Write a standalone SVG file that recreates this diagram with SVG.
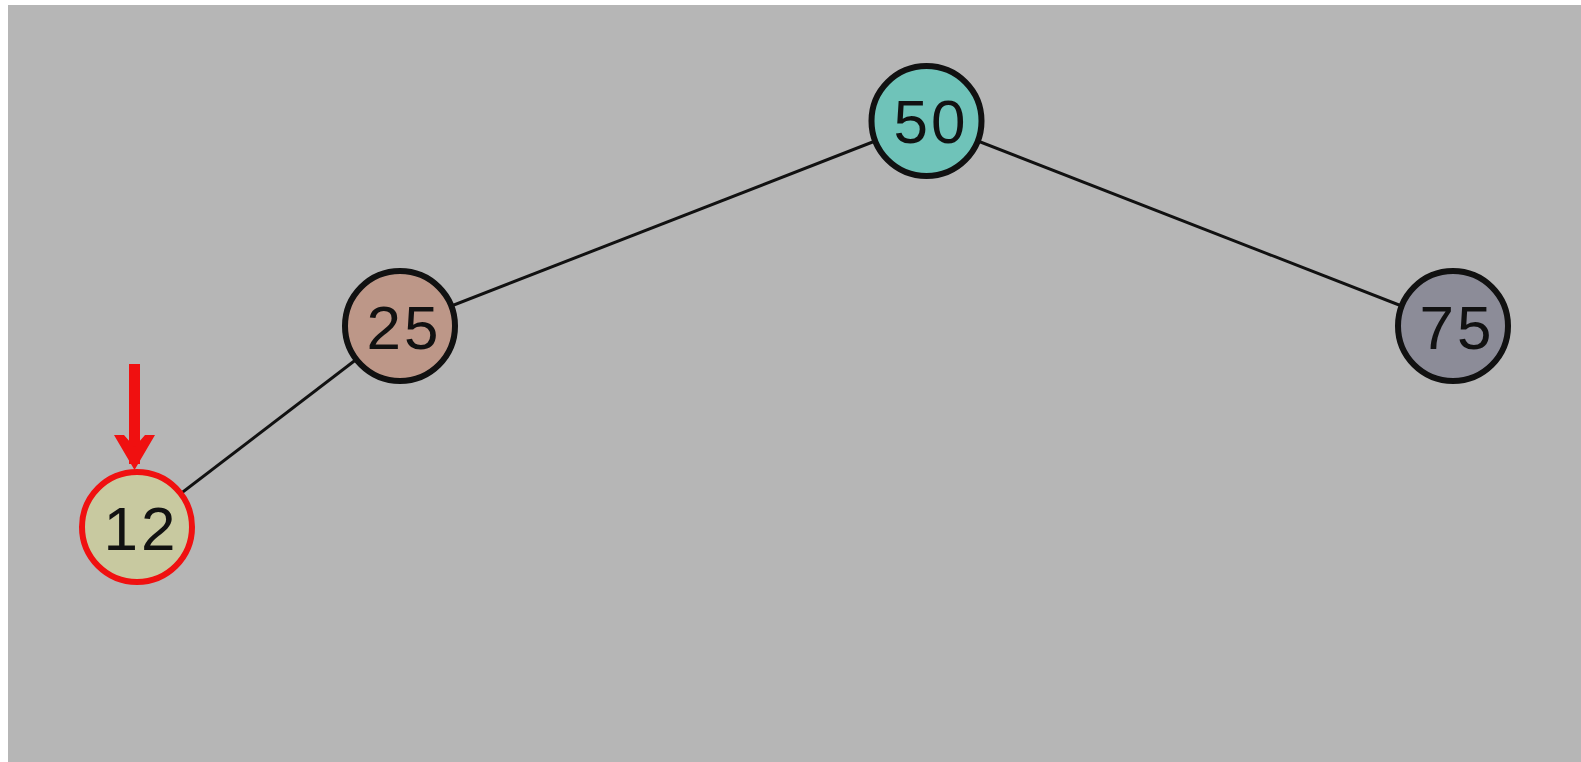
<svg xmlns="http://www.w3.org/2000/svg" width="1581" height="762" viewBox="0 0 1581 762">
<style>
.node circle{stroke:#111;stroke-width:6}
.node text{font-family:"Liberation Sans",Arial,sans-serif;font-size:62px;fill:#111;text-anchor:middle;letter-spacing:3px}
.edge{stroke:#111;stroke-width:3}
</style>
<rect x="0" y="0" width="1581" height="762" fill="#ffffff"/>
<rect x="8" y="5" width="1573" height="757" fill="#b6b6b6"/>
<g id="edges">
<line class="edge" x1="926.5" y1="121" x2="400" y2="326"/>
<line class="edge" x1="926.5" y1="121" x2="1453" y2="326"/>
<line class="edge" x1="400" y1="326" x2="137" y2="527"/>
</g>
<g id="n50" class="node">
<circle cx="926.5" cy="121" r="55" fill="#6fc3b9"/>
<text x="931" y="143">50</text>
</g>
<g id="n25" class="node">
<circle cx="400" cy="326" r="55" fill="#bd9788"/>
<text x="404" y="349">25</text>
</g>
<g id="n75" class="node">
<circle cx="1453" cy="326" r="55" fill="#8c8c98"/>
<text x="1457" y="349">75</text>
</g>
<g id="n12" class="node">
<circle cx="137" cy="527" r="55" fill="#c8c9a0" style="stroke:#f01010"/>
<text x="141" y="550">12</text>
</g>
<g id="pointer">
<rect x="129" y="364" width="11" height="100" fill="#f01010"/>
<polygon points="114,435 124,435 134.5,447 145,435 155,435 134.5,470" fill="#f01010"/>
</g>
</svg>
